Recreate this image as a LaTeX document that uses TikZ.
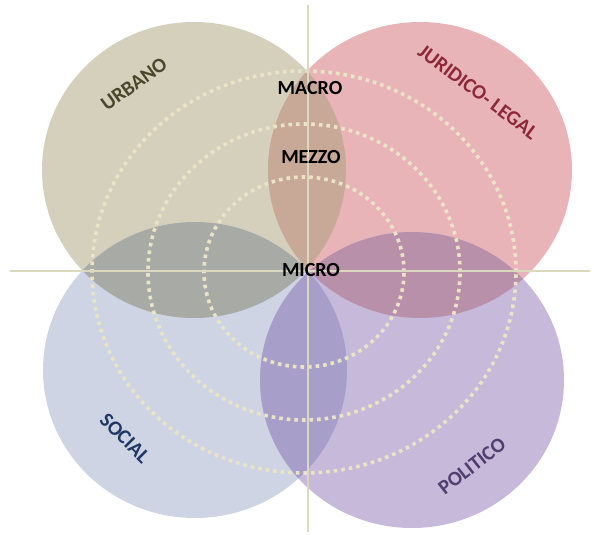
\documentclass[tikz,border=0pt]{standalone}
\usepackage{fontspec}
\setmainfont{Carlito}
\usetikzlibrary{calc}
\definecolor{urbanoC}{RGB}{213,208,188}
\definecolor{juridicoC}{RGB}{232,180,184}
\definecolor{socialC}{RGB}{206,212,228}
\definecolor{politicoC}{RGB}{198,185,217}
\definecolor{lensUJ}{RGB}{200,168,150}
\definecolor{lensUS}{RGB}{168,170,166}
\definecolor{lensSP}{RGB}{168,158,202}
\definecolor{lensJP}{RGB}{184,144,170}
\definecolor{urbanoT}{RGB}{74,72,44}
\definecolor{juridicoT}{RGB}{140,40,56}
\definecolor{socialT}{RGB}{31,56,100}
\definecolor{politicoT}{RGB}{80,62,112}
\definecolor{ringC}{RGB}{234,228,198}
\definecolor{axisC}{RGB}{220,216,192}
\begin{document}
\begin{tikzpicture}[x=1pt,y=-1pt,thin,disc/.style={x radius=152pt,y radius=148pt},
    area label/.style={font=\fontsize{20.5}{22}\selectfont\bfseries},
    level label/.style={font=\fontsize{20}{22}\selectfont\bfseries,text=black},
    ring/.style={draw=ringC,line width=3.6pt,dash pattern=on 3.6pt off 4pt},
    axis line/.style={draw=axisC,line width=1.2pt}]
\useasboundingbox (0,0) rectangle (594,535);

        \coordinate (U) at (194,170);
        \coordinate (J) at (420,170);
        \coordinate (S) at (195,370);
        \coordinate (P) at (412,380);
        \coordinate (C) at (304,272);

        \fill[urbanoC,disc] (U) circle[];
        \fill[juridicoC,disc] (J) circle[];
        \fill[socialC,disc] (S) circle[];
        \fill[politicoC,disc] (P) circle[];

        \begin{scope}\clip[disc] (U) circle[]; \fill[lensUJ,disc] (J) circle[]; \end{scope}
        \begin{scope}\clip[disc] (U) circle[]; \fill[lensUS,disc] (S) circle[]; \end{scope}
        \begin{scope}\clip[disc] (S) circle[]; \fill[lensSP,disc] (P) circle[]; \end{scope}
        \begin{scope}\clip[disc] (J) circle[]; \fill[lensJP,disc] (P) circle[]; \end{scope}

        \foreach \rx/\ry in {100/95,156/148,212/201}
            \draw[ring] (C) ellipse[x radius=\rx pt,y radius=\ry pt];

        \coordinate (oeste) at (10,271);
        \coordinate (este) at (590,271);
        \coordinate (norte) at (308,5);
        \coordinate (sur) at (308,532);
        \draw[axis line] (oeste) -- (este);
        \draw[axis line] (norte) -- (sur);

        \node[area label,text=urbanoT,rotate=36] (urbano) at (134,84) {URBANO};
        \node[area label,text=juridicoT,rotate=-37] (juridico) at (478,92) {JURIDICO- LEGAL};
        \node[area label,text=socialT,rotate=-45] (social) at (125,438) {SOCIAL};
        \node[area label,text=politicoT,rotate=38] (politico) at (472,466) {POLITICO};

        \node[level label] (macro) at (310,88) {MACRO};
        \node[level label] (mezzo) at (311,157) {MEZZO};
        \node[level label] (micro) at (311,270) {MICRO};

\end{tikzpicture}
\end{document}
